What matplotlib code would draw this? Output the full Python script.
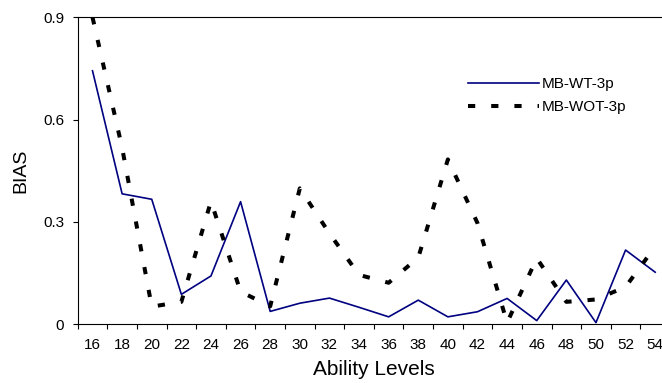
import numpy as np
import matplotlib
matplotlib.use("Agg")
import matplotlib.pyplot as plt

plt.rcParams['font.family'] = ['Liberation Sans', 'DejaVu Sans']
plt.rcParams['lines.scale_dashes'] = False

# ability levels (categories) and BIAS values
levels = [16, 18, 20, 22, 24, 26, 28, 30, 32, 34, 36, 38, 40, 42, 44, 46, 48, 50, 52, 54]
bias_wt = [0.743, 0.382, 0.366, 0.087, 0.141, 0.359, 0.037, 0.061, 0.076, 0.049,
           0.021, 0.070, 0.021, 0.036, 0.075, 0.010, 0.129, 0.004, 0.217, 0.152]
bias_wot = [0.900, 0.517, 0.051, 0.065, 0.360, 0.095, 0.052, 0.398, 0.266, 0.144,
            0.121, 0.195, 0.483, 0.296, 0.004, 0.193, 0.065, 0.072, 0.109, 0.227]
yticks = [0, 0.3, 0.6, 0.9]
ytick_labels = ["0", "0.3", "0.6", "0.9"]

fig = plt.figure(figsize=(6.62, 3.83), dpi=100)
ax = fig.add_axes([77.7/662, 59/383, (670-77.7)/662, (324-17.3)/383])

x = np.arange(len(levels))
ax.plot(x, bias_wt, color='#000080', lw=1.2, label='MB-WT-3p')
ax.plot(x, bias_wot, color='black', lw=2.9, dashes=(5.2, 11.5),
        dash_capstyle='butt', label='MB-WOT-3p')

ax.set_xlim(-0.5, len(levels) - 0.5)
ax.set_ylim(0, 0.9)

# labels sit between tick marks, like a category axis
ax.set_xticks(x)
ax.set_xticklabels([str(v) for v in levels], fontsize=11)
ax.tick_params(axis='x', which='major', length=0, pad=10)
ax.set_xticks(np.arange(len(levels) + 1) - 0.5, minor=True)
ax.tick_params(axis='x', which='minor', length=3.6, width=0.8, direction='out')

ax.set_yticks(yticks)
ax.set_yticklabels(ytick_labels, fontsize=11)
ax.tick_params(axis='y', length=3.6, width=0.8, pad=6)

for side in ['left', 'bottom', 'top']:
    ax.spines[side].set_linewidth(0.8)
ax.spines['right'].set_visible(False)

ax.set_xlabel('Ability Levels', fontsize=15, labelpad=6)
ax.set_ylabel('BIAS', fontsize=14, labelpad=10)

ax.legend(loc='upper left', bbox_to_anchor=(0.648, 0.825), frameon=False,
          fontsize=11, handlelength=4.7, handletextpad=0.15, labelspacing=0.6,
          borderaxespad=0)

fig.savefig('out.png', dpi=100)
